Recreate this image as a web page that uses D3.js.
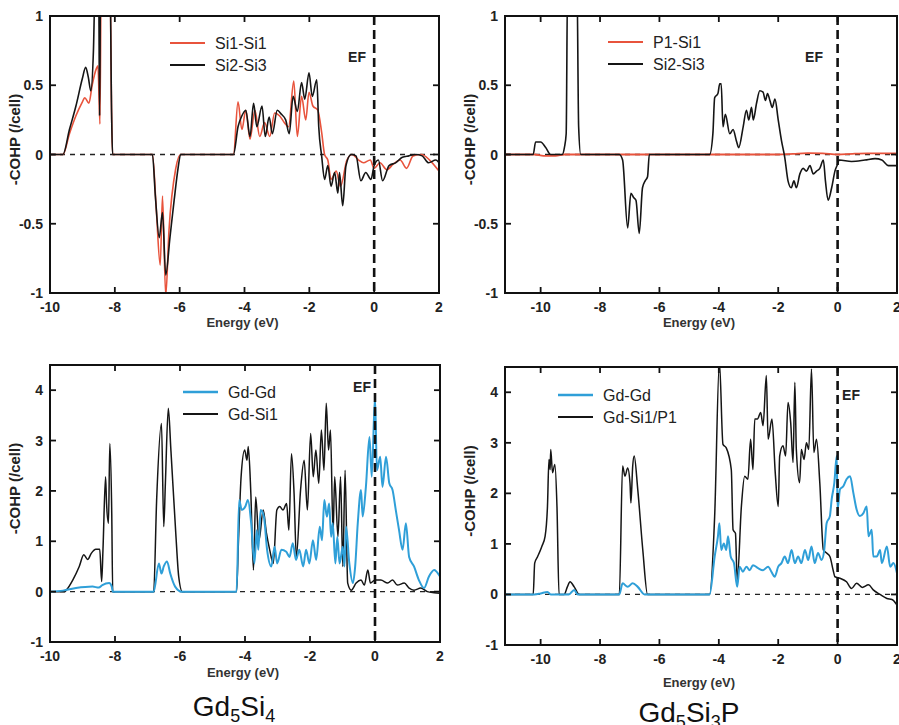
<!DOCTYPE html>
<html>
<head>
<meta charset="utf-8">
<script src="https://cdn.jsdelivr.net/npm/d3@7"></script>
<style>
  body { margin: 0; background: #fff; }
  svg { display: block; font-family: "Liberation Sans", Arial, sans-serif; }
</style>
</head>
<body>
<svg width="899" height="725"></svg>
<script>
// -COHP curves, [energy (eV), -COHP (/cell)]
const si1si1_Gd5Si4 = [[-10,0],[-9.6,0],[-9.4,0.15],[-9.2,0.28],[-9.0,0.38],[-8.93,0.41],[-8.8,0.37],[-8.7,0.5],[-8.57,0.62],[-8.52,0.64],[-8.46,0.22],[-8.42,1.3],[-8.15,1.3],[-8.1,0.3],[-8.07,0],[-6.84,0],[-6.72,-0.4],[-6.6,-0.8],[-6.53,-0.3],[-6.43,-1.02],[-6.33,-0.55],[-6.12,-0.1],[-5.97,0],[-4.34,0],[-4.2,0.38],[-4.08,0.18],[-3.96,0.32],[-3.83,0.11],[-3.68,0.32],[-3.53,0.13],[-3.38,0.23],[-3.22,0.13],[-3.07,0.3],[-2.92,0.28],[-2.77,0.23],[-2.64,0.2],[-2.48,0.53],[-2.37,0.13],[-2.24,0.42],[-2.11,0.25],[-2.01,0.45],[-1.89,0.35],[-1.74,0.32],[-1.62,0.16],[-1.53,0],[-1.43,-0.04],[-1.33,-0.18],[-1.17,-0.12],[-1.04,-0.23],[-0.84,-0.04],[-0.68,0],[-0.48,-0.04],[-0.33,-0.06],[-0.12,-0.04],[0,-0.1],[0.18,-0.06],[0.39,-0.11],[0.59,-0.07],[0.8,-0.04],[1.0,-0.1],[1.2,-0.01],[1.46,0],[1.71,-0.04],[2,-0.12]]
const si2si3_Gd5Si4 = [[-10,0],[-9.6,0],[-9.4,0.18],[-9.2,0.35],[-9.0,0.55],[-8.9,0.63],[-8.82,0.56],[-8.74,0.46],[-8.66,0.75],[-8.6,1.3],[-8.5,1.3],[-8.47,0.28],[-8.44,1.3],[-8.15,1.3],[-8.1,0.3],[-8.07,0],[-6.84,0],[-6.75,-0.3],[-6.63,-0.6],[-6.53,-0.42],[-6.43,-0.87],[-6.3,-0.6],[-6.17,-0.33],[-6.05,-0.1],[-5.97,0],[-4.34,0],[-4.2,0.2],[-4.08,0.28],[-3.96,0.32],[-3.83,0.13],[-3.72,0.37],[-3.62,0.2],[-3.46,0.35],[-3.36,0.13],[-3.24,0.27],[-3.14,0.15],[-2.99,0.32],[-2.86,0.29],[-2.73,0.25],[-2.62,0.15],[-2.5,0.42],[-2.37,0.31],[-2.24,0.52],[-2.14,0.4],[-2.01,0.59],[-1.91,0.42],[-1.77,0.54],[-1.71,0.2],[-1.62,-0.01],[-1.53,-0.18],[-1.43,-0.08],[-1.33,-0.23],[-1.22,-0.13],[-1.12,-0.28],[-1.07,-0.13],[-0.97,-0.37],[-0.87,-0.08],[-0.71,0],[-0.56,-0.01],[-0.41,-0.19],[-0.26,-0.13],[-0.1,-0.18],[0,-0.08],[0.13,-0.04],[0.26,-0.19],[0.46,-0.08],[0.66,-0.06],[0.87,-0.02],[1.07,-0.01],[1.28,0],[1.48,-0.01],[1.68,-0.06],[1.9,-0.04],[2,-0.06]]

const p1si1_Gd5Si3P = [[-11.2,0],[-10.2,0],[-9.9,-0.01],[-9.5,-0.01],[-9.2,0],[-7.3,0],[-6.5,0],[-4.3,0],[-2,0],[-1.5,0.005],[-1,0.01],[-0.5,0.008],[0,0],[0.5,0.005],[1,0.008],[2,0.008]]
const si2si3_Gd5Si3P = [[-11.2,0],[-10.25,0],[-10.17,0.09],[-10.0,0.09],[-9.83,0.05],[-9.66,0],[-9.27,0],[-9.2,0.05],[-9.14,0.15],[-9.09,1.3],[-8.78,1.3],[-8.72,0.2],[-8.65,0],[-7.35,0],[-7.24,-0.04],[-7.07,-0.53],[-6.96,-0.28],[-6.87,-0.31],[-6.79,-0.33],[-6.68,-0.57],[-6.57,-0.24],[-6.48,-0.19],[-6.4,-0.16],[-6.34,0],[-4.31,0],[-4.2,0.15],[-4.14,0.41],[-4.03,0.44],[-3.97,0.51],[-3.92,0.51],[-3.86,0.2],[-3.78,0.29],[-3.63,0.15],[-3.52,0.18],[-3.41,0.1],[-3.33,0.05],[-3.18,0.2],[-3.07,0.32],[-2.99,0.25],[-2.9,0.34],[-2.84,0.25],[-2.73,0.37],[-2.62,0.46],[-2.51,0.45],[-2.43,0.39],[-2.36,0.44],[-2.28,0.39],[-2.2,0.34],[-2.11,0.4],[-2.0,0.25],[-1.89,0.1],[-1.78,-0.02],[-1.67,-0.19],[-1.56,-0.24],[-1.47,-0.19],[-1.39,-0.24],[-1.27,-0.14],[-1.16,-0.1],[-1.05,-0.12],[-0.93,-0.08],[-0.82,-0.14],[-0.71,-0.12],[-0.6,-0.1],[-0.48,-0.04],[-0.41,-0.19],[-0.32,-0.33],[-0.2,-0.24],[-0.09,-0.12],[0,-0.07],[0.05,-0.04],[0.47,-0.05],[0.92,-0.04],[1.26,-0.03],[1.49,-0.04],[1.71,-0.08],[2,-0.08]]

const gdgd_Gd5Si4 = [[-10,0],[-9.6,0.02],[-9.2,0.07],[-8.69,0.1],[-8.5,0.08],[-8.39,0.13],[-8.18,0.17],[-8.1,0.1],[-8.07,0],[-6.81,0],[-6.65,0.56],[-6.57,0.36],[-6.5,0.5],[-6.4,0.6],[-6.3,0.36],[-6.15,0.1],[-5.95,0],[-4.26,0],[-4.18,1.82],[-4.1,1.62],[-3.99,1.69],[-3.91,1.82],[-3.81,1.36],[-3.71,0.56],[-3.64,1.22],[-3.59,0.83],[-3.52,1.62],[-3.42,1.49],[-3.32,0.83],[-3.19,0.5],[-3.09,0.89],[-3.01,0.56],[-2.88,0.83],[-2.73,0.79],[-2.63,0.69],[-2.53,0.96],[-2.43,0.63],[-2.33,0.83],[-2.21,0.5],[-2.12,0.83],[-2.02,0.56],[-1.91,1.02],[-1.81,0.63],[-1.7,1.29],[-1.63,1.02],[-1.56,1.82],[-1.48,1.49],[-1.41,1.75],[-1.35,1.09],[-1.3,1.36],[-1.22,0.56],[-1.16,1.09],[-1.09,0.56],[-0.99,0.89],[-0.94,0.5],[-0.89,1.29],[-0.79,0.56],[-0.68,0.17],[-0.61,0.5],[-0.53,1.36],[-0.43,2.02],[-0.38,1.49],[-0.28,2.08],[-0.17,3.07],[-0.1,2.28],[0,3.87],[0.06,2.41],[0.16,2.68],[0.23,2.08],[0.34,2.68],[0.44,2.15],[0.54,2.02],[0.64,1.62],[0.74,1.22],[0.85,0.83],[0.95,1.36],[1.05,0.69],[1.2,0.5],[1.35,0.23],[1.51,0.07],[1.66,0.3],[1.82,0.43],[2,0.3]]
const gdsi1_Gd5Si4 = [[-10,0],[-9.55,0],[-9.5,0.03],[-9.3,0.23],[-9.1,0.5],[-8.96,0.73],[-8.84,0.64],[-8.73,0.76],[-8.59,0.84],[-8.47,0.84],[-8.41,0.2],[-8.37,0.83],[-8.29,2.28],[-8.26,1.75],[-8.2,1.36],[-8.16,2.94],[-8.1,1.55],[-8.07,0],[-6.81,0],[-6.72,1.8],[-6.57,3.34],[-6.5,1.29],[-6.45,2.15],[-6.36,3.64],[-6.28,2.81],[-6.13,1.16],[-6.04,0.3],[-5.93,0],[-4.26,0],[-4.2,1.02],[-4.12,2.28],[-4.01,2.81],[-3.94,2.61],[-3.9,2.88],[-3.82,1.95],[-3.74,0.43],[-3.67,1.88],[-3.57,1.02],[-3.44,1.62],[-3.34,1.16],[-3.24,0.83],[-3.13,0.56],[-3.02,1.62],[-2.93,1.69],[-2.83,1.62],[-2.72,1.75],[-2.65,1.22],[-2.57,2.74],[-2.49,1.95],[-2.42,0.69],[-2.29,2.02],[-2.18,2.61],[-2.08,1.62],[-1.98,3.14],[-1.9,2.28],[-1.82,2.81],[-1.73,2.15],[-1.65,3.21],[-1.57,2.41],[-1.5,3.74],[-1.43,2.81],[-1.37,3.21],[-1.29,1.16],[-1.24,2.28],[-1.14,1.09],[-1.06,2.28],[-0.99,0.5],[-0.92,2.41],[-0.84,0.17],[-0.73,0.03],[-0.58,0.17],[-0.43,0.23],[-0.33,0.13],[-0.22,0.43],[-0.14,0.17],[0,0.23],[0.18,0.23],[0.39,0.17],[0.54,0.23],[0.69,0.13],[0.9,0.17],[1.05,0.07],[1.2,0.03],[1.41,0.07],[1.61,0],[1.82,-0.02],[2,-0.03]]

const gdgd_Gd5Si3P = [[-11.2,0],[-10.2,0],[-10.0,0.02],[-9.77,0.05],[-9.66,0],[-9.05,0],[-8.87,0.09],[-8.75,0],[-7.35,0],[-7.24,0.22],[-7.07,0.15],[-6.9,0.22],[-6.73,0.15],[-6.5,0],[-4.31,0],[-4.14,0.75],[-4.03,1.15],[-3.98,1.41],[-3.92,0.88],[-3.83,1.01],[-3.75,0.88],[-3.69,1.15],[-3.6,0.75],[-3.49,0.62],[-3.38,0.15],[-3.3,0.55],[-3.19,0.45],[-3.07,0.55],[-2.96,0.48],[-2.85,0.58],[-2.68,0.52],[-2.51,0.48],[-2.34,0.55],[-2.23,0.45],[-2.12,0.35],[-2.0,0.55],[-1.89,0.62],[-1.78,0.75],[-1.67,0.62],[-1.55,0.88],[-1.44,0.62],[-1.33,0.75],[-1.22,0.62],[-1.1,0.88],[-0.99,0.68],[-0.88,0.95],[-0.77,0.62],[-0.66,0.82],[-0.54,0.68],[-0.45,0.88],[-0.37,1.41],[-0.26,1.55],[-0.2,1.88],[-0.11,2.21],[-0.03,2.74],[0,1.68],[0.08,2.08],[0.19,2.14],[0.3,2.28],[0.42,2.34],[0.53,2.01],[0.64,1.68],[0.75,1.55],[0.87,1.61],[0.98,1.74],[1.04,1.15],[1.15,1.28],[1.2,0.75],[1.32,0.75],[1.43,0.88],[1.49,0.62],[1.66,0.95],[1.77,0.55],[1.88,0.62],[2,0.42]]
const gdsi1p1_Gd5Si3P = [[-11.2,0],[-10.25,0],[-10.2,0.62],[-10.1,0.75],[-9.96,0.95],[-9.85,1.15],[-9.77,1.74],[-9.72,2.67],[-9.68,2.47],[-9.66,2.87],[-9.6,2.41],[-9.52,2.57],[-9.45,1.74],[-9.38,0],[-9.21,0],[-9.1,0.15],[-9.01,0.25],[-8.87,0.15],[-8.7,0],[-7.35,0],[-7.24,2.54],[-7.16,2.34],[-7.07,2.5],[-6.99,2.2],[-6.96,1.81],[-6.9,2.54],[-6.85,2.74],[-6.73,2.08],[-6.56,0.88],[-6.4,0],[-4.31,0],[-4.14,1.55],[-3.98,4.6],[-3.86,2.97],[-3.75,2.9],[-3.58,2.47],[-3.52,1.28],[-3.44,1.21],[-3.38,0.28],[-3.24,1.74],[-3.13,2.34],[-3.02,2.28],[-2.93,3.07],[-2.85,2.47],[-2.79,3.47],[-2.7,3.47],[-2.59,3.6],[-2.51,3.34],[-2.4,4.33],[-2.34,3.07],[-2.21,3.47],[-2.1,2.41],[-2.0,1.74],[-1.95,2.74],[-1.84,2.94],[-1.75,2.74],[-1.67,3.8],[-1.58,3.4],[-1.5,2.61],[-1.44,4.2],[-1.39,2.87],[-1.28,2.21],[-1.22,2.87],[-1.13,2.67],[-1.05,3.0],[-0.97,2.87],[-0.88,4.46],[-0.8,2.81],[-0.71,3.07],[-0.6,2.21],[-0.48,0.88],[-0.37,0.82],[-0.26,0.75],[-0.15,0.48],[-0.09,0.35],[0.08,0.32],[0.3,0.25],[0.47,0.12],[0.64,0.22],[0.83,0.14],[1.04,0.19],[1.2,0.09],[1.43,0],[1.66,-0.08],[1.83,-0.1],[2,-0.21]]

const xTicks = [-10, -8, -6, -4, -2, 0, 2]
const yTicksTop = [-1, -0.5, 0, 0.5, 1]
const yTicksBottom = [-1, 0, 1, 2, 3, 4]

const red = "#e8533c"
const blue = "#2f9fd8"
const black = "#151515"

const svg = d3.select("svg")

const panels = [
  {id: "p1", x0: 50, x1: 439, y0: 16, y1: 293, xd: [-10, 2], yd: [-1, 1], yt: yTicksTop,
   series: [{d: si1si1_Gd5Si4, c: red, w: 1.6, name: "Si1-Si1"}, {d: si2si3_Gd5Si4, c: black, w: 1.6, name: "Si2-Si3"}],
   leg: [170, 43], ef: [357, 57], xlabY: 322},
  {id: "p2", x0: 505, x1: 897, y0: 16, y1: 293, xd: [-11.2, 2], yd: [-1, 1], yt: yTicksTop,
   series: [{d: p1si1_Gd5Si3P, c: red, w: 1.8, name: "P1-Si1"}, {d: si2si3_Gd5Si3P, c: black, w: 1.6, name: "Si2-Si3"}],
   leg: [608, 42], ef: [814, 57], xlabY: 322},
  {id: "p3", x0: 50, x1: 440, y0: 365, y1: 642, xd: [-10, 2], yd: [-1, 4.5], yt: yTicksBottom,
   series: [{d: gdsi1_Gd5Si4, c: black, w: 1.5, name: "Gd-Si1"}, {d: gdgd_Gd5Si4, c: blue, w: 2, name: "Gd-Gd"}],
   legOrder: [1, 0], leg: [183, 392], ef: [362, 387], xlabY: 672},
  {id: "p4", x0: 505, x1: 897, y0: 367, y1: 645, xd: [-11.2, 2], yd: [-1, 4.5], yt: yTicksBottom,
   series: [{d: gdsi1p1_Gd5Si3P, c: black, w: 1.5, name: "Gd-Si1/P1"}, {d: gdgd_Gd5Si3P, c: blue, w: 2, name: "Gd-Gd"}],
   legOrder: [1, 0], leg: [558, 395], ef: [851, 395], xlabY: 682}
]

panels.forEach(p => {
  const x = d3.scaleLinear().domain(p.xd).range([p.x0, p.x1])
  const y = d3.scaleLinear().domain(p.yd).range([p.y1, p.y0])
  const g = svg.append("g")

  g.append("clipPath").attr("id", "clip-" + p.id)
    .append("rect").attr("x", p.x0).attr("y", p.y0)
    .attr("width", p.x1 - p.x0).attr("height", p.y1 - p.y0)

  // zero line
  g.append("line")
    .attr("x1", p.x0).attr("x2", p.x1).attr("y1", y(0)).attr("y2", y(0))
    .attr("stroke", "#222").attr("stroke-width", 1.3).attr("stroke-dasharray", "5,5")

  const line = d3.line().x(d => x(d[0])).y(d => y(d[1])).curve(d3.curveMonotoneX)
  const plot = g.append("g").attr("clip-path", `url(#clip-${p.id})`)
  p.series.forEach(s => {
    plot.append("path").datum(s.d)
      .attr("d", line)
      .attr("fill", "none")
      .attr("stroke", s.c)
      .attr("stroke-width", s.w)
      .attr("stroke-linejoin", "round")
  })

  // Fermi level
  g.append("line")
    .attr("x1", x(0)).attr("x2", x(0)).attr("y1", p.y0).attr("y2", p.y1)
    .attr("stroke", "#111").attr("stroke-width", 2.6).attr("stroke-dasharray", "9,5")

  // frame
  g.append("rect").attr("x", p.x0).attr("y", p.y0)
    .attr("width", p.x1 - p.x0).attr("height", p.y1 - p.y0)
    .attr("fill", "none").attr("stroke", "#111").attr("stroke-width", 2)

  // ticks, inward on all sides
  const tl = 6
  xTicks.filter(t => t > p.xd[0] && t < p.xd[1]).forEach(t => {
    g.append("line").attr("x1", x(t)).attr("x2", x(t)).attr("y1", p.y1).attr("y2", p.y1 - tl)
      .attr("stroke", "#111").attr("stroke-width", 1.8)
    g.append("line").attr("x1", x(t)).attr("x2", x(t)).attr("y1", p.y0).attr("y2", p.y0 + tl)
      .attr("stroke", "#111").attr("stroke-width", 1.8)
  })
  p.yt.filter(t => t > p.yd[0] && t < p.yd[1]).forEach(t => {
    g.append("line").attr("x1", p.x0).attr("x2", p.x0 + tl).attr("y1", y(t)).attr("y2", y(t))
      .attr("stroke", "#111").attr("stroke-width", 1.8)
    g.append("line").attr("x1", p.x1).attr("x2", p.x1 - tl).attr("y1", y(t)).attr("y2", y(t))
      .attr("stroke", "#111").attr("stroke-width", 1.8)
  })

  // tick labels
  g.selectAll(".xl").data(xTicks).join("text")
    .attr("x", d => x(d)).attr("y", p.y1 + 19)
    .attr("text-anchor", "middle")
    .attr("font-size", 14).attr("font-weight", "bold").attr("fill", "#222")
    .text(d => d)
  g.selectAll(".yl").data(p.yt).join("text")
    .attr("x", p.x0 - 7).attr("y", d => y(d) + 5)
    .attr("text-anchor", "end")
    .attr("font-size", 14).attr("font-weight", "bold").attr("fill", "#222")
    .text(d => d)

  // axis titles
  g.append("text")
    .attr("x", (p.x0 + p.x1) / 2 - 2).attr("y", p.xlabY + 5)
    .attr("text-anchor", "middle").attr("font-size", 13).attr("font-weight", "bold").attr("fill", "#333")
    .text("Energy (eV)")
  g.append("text")
    .attr("transform", `translate(${p.x0 - 30},${(p.y0 + p.y1) / 2 - 15}) rotate(-90)`)
    .attr("text-anchor", "middle").attr("font-size", 15).attr("font-weight", "bold").attr("fill", "#222")
    .text("-COHP (/cell)")

  // legend
  const order = p.legOrder || [0, 1]
  order.forEach((k, i) => {
    const s = p.series[k]
    const ly = p.leg[1] + i * 22
    g.append("line").attr("x1", p.leg[0]).attr("x2", p.leg[0] + 35).attr("y1", ly).attr("y2", ly)
      .attr("stroke", s.c).attr("stroke-width", s.w + 0.4)
    g.append("text").attr("x", p.leg[0] + 45).attr("y", ly + 5.5)
      .attr("font-size", 16).attr("fill", "#222").text(s.name)
  })

  // EF label
  g.append("text").attr("x", p.ef[0]).attr("y", p.ef[1] + 5)
    .attr("text-anchor", "middle").attr("font-size", 14).attr("font-weight", "bold").attr("fill", "#222")
    .text("EF")
})

// compound captions
function caption(cx, by, parts) {
  const t = svg.append("text").attr("x", cx).attr("y", by)
    .attr("text-anchor", "middle").attr("font-size", 28).attr("fill", "#111")
  let prevSub = false
  parts.forEach(([s, sub]) => {
    const ts = t.append("tspan").text(s)
    if (sub) ts.attr("font-size", 18).attr("dy", 6)
    else if (prevSub) ts.attr("dy", -6)
    prevSub = sub
  })
}
caption(234, 716, [["Gd", false], ["5", true], ["Si", false], ["4", true]])
caption(689, 722, [["Gd", false], ["5", true], ["Si", false], ["3", true], ["P", false]])
</script>
</body>
</html>
